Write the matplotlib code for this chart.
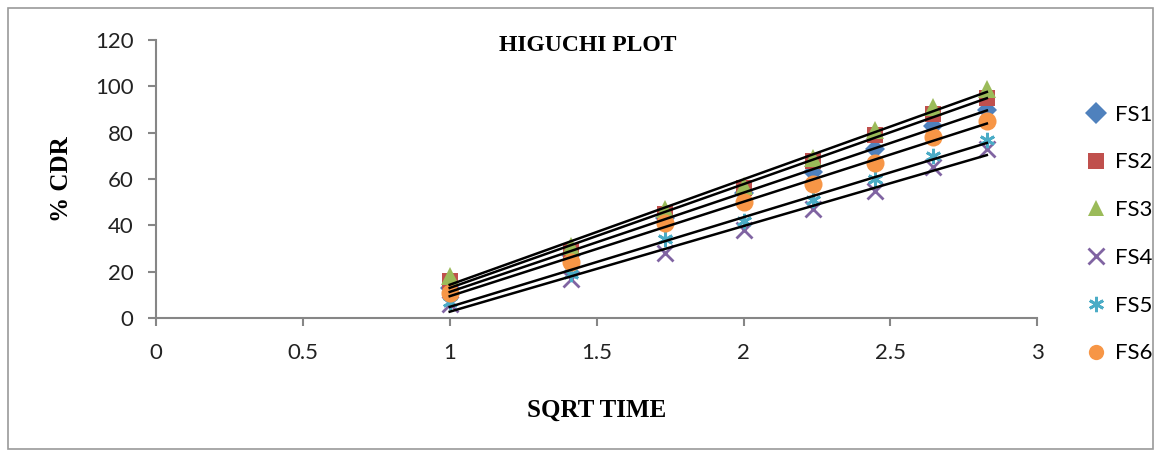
import numpy as np
import matplotlib.pyplot as plt
from matplotlib.patches import Rectangle

# sqrt of time (hours 1..8)
sqrt_time = [1.0, 1.414, 1.732, 2.0, 2.236, 2.449, 2.646, 2.828]

fs1 = [13, 27, 43, 54, 63, 73, 83, 90]
fs2 = [16, 29, 45, 56, 68, 79, 88, 95]
fs3 = [18, 31, 47, 57, 69, 81, 91, 99]
fs4 = [6, 17, 28, 38, 47, 55, 65, 73]
fs5 = [7, 19, 34, 42, 51, 60, 70, 77]
fs6 = [11, 24, 41, 50, 58, 67, 78, 85]

names = ["FS1", "FS2", "FS3", "FS4", "FS5", "FS6"]
series = [fs1, fs2, fs3, fs4, fs5, fs6]
colors = ["#4F81BD", "#C0504D", "#9BBB59", "#8064A2", "#4BACC6", "#F79646"]
markers = ["D", "s", "^", "x", (6, 2, 0), "o"]
msizes = [10, 12, 13, 11, 11, 13]

fig = plt.figure(figsize=(11.63, 4.55), dpi=100)
ax = fig.add_axes([0.134, 0.301, 0.758, 0.611])

x = np.array(sqrt_time)
for name, y, c, m, ms in zip(names, series, colors, markers, msizes):
    if m in ("x", (6, 2, 0)):
        ax.plot(x, y, linestyle="none", marker=m, color=c, markersize=ms,
                markeredgewidth=2, label=name, zorder=2)
    else:
        ax.plot(x, y, linestyle="none", marker=m, color=c, markersize=ms,
                markeredgewidth=0, label=name, zorder=2)

# linear trendlines
for y in series:
    k, b = np.polyfit(x, y, 1)
    ax.plot(x, k * x + b, color="black", linewidth=1.8, zorder=3)

ax.set_xlim(0, 3)
ax.set_ylim(0, 120)
ax.set_xticks([0, 0.5, 1, 1.5, 2, 2.5, 3])
ax.set_xticklabels(["0", "0.5", "1", "1.5", "2", "2.5", "3"])
ax.set_yticks(range(0, 121, 20))

for s in ["top", "right"]:
    ax.spines[s].set_visible(False)
for s in ["left", "bottom"]:
    ax.spines[s].set_color("#868686")
    ax.spines[s].set_linewidth(1.5)
ax.tick_params(colors="#868686", length=6, width=1.5, labelcolor="#222222",
               labelsize=16)
for lab in ax.get_xticklabels() + ax.get_yticklabels():
    lab.set_family("Lato")
ax.tick_params(axis="x", pad=12)
ax.tick_params(axis="y", pad=10)

ax.text(0.49, 0.98, "HIGUCHI PLOT", transform=ax.transAxes, ha="center",
        va="center", fontsize=17, fontweight="bold", family="Liberation Serif")
ax.set_ylabel("% CDR", fontsize=18, fontweight="bold", family="Liberation Serif",
              labelpad=16)
ax.set_xlabel("SQRT TIME", fontsize=18, fontweight="bold", family="Liberation Serif",
              labelpad=26)

leg = ax.legend(loc="upper left", bbox_to_anchor=(1.045, 0.80), frameon=False,
                prop={"family": "Lato", "size": 16}, labelspacing=1.25,
                handlelength=0.9, handletextpad=0.4, borderaxespad=0)
for h in leg.legend_handles:
    h.set_markersize(11)

fig.patches.append(Rectangle((8 / 1163, 6 / 455), 1145 / 1163, 441 / 455,
                             transform=fig.transFigure, fill=False,
                             edgecolor="#9a9a9a", linewidth=1.2))

fig.savefig("out.png", dpi=100)
